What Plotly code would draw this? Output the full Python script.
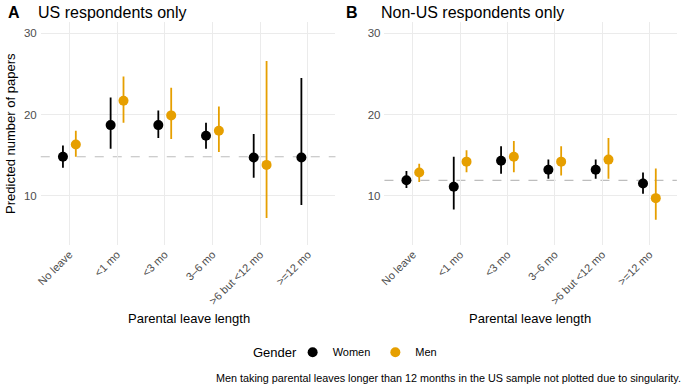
import numpy as np
import plotly.graph_objects as go

categories = ["No leave", "<1 mo", "<3 mo", "3\u20136 mo", ">6 but <12 mo", ">=12 mo"]

# Panel A: US respondents
us_women_est = [14.8, 18.7, 18.7, 17.4, 14.7, 14.7]
us_women_lo = [13.45, 15.8, 17.1, 15.8, 12.2, 8.85]
us_women_hi = [16.2, 22.1, 20.5, 19.0, 17.6, 24.5]
us_men_est = [16.3, 21.7, 19.9, 18.0, 13.8, None]
us_men_lo = [14.8, 19.0, 17.0, 15.4, 7.25, None]
us_men_hi = [18.0, 24.7, 23.3, 21.0, 26.6, None]
us_ref = 14.8

# Panel B: Non-US respondents
nonus_women_est = [11.9, 11.1, 14.3, 13.2, 13.2, 11.5]
nonus_women_lo = [10.95, 8.3, 12.7, 12.1, 12.1, 10.25]
nonus_women_hi = [13.05, 14.8, 16.1, 14.45, 14.45, 12.85]
nonus_men_est = [12.85, 14.2, 14.8, 14.2, 14.45, 9.7]
nonus_men_lo = [11.7, 12.9, 12.9, 12.5, 12.1, 7.05]
nonus_men_hi = [13.95, 15.6, 16.75, 16.1, 17.1, 13.35]
nonus_ref = 11.9

y_ticks = [10, 20, 30]

WOMEN = "#000000"
MEN = "#E69F00"
FONT = "Liberation Sans, Arial, sans-serif"
DODGE = 0.135

fig = go.Figure()

def add_series(est, lo, hi, color, name, xaxis, yaxis, offset, show):
    idx = np.arange(len(categories), dtype=float) + offset
    xs, ys, ep, em = [], [], [], []
    for i, (e, l, h) in enumerate(zip(est, lo, hi)):
        if e is None:
            continue
        xs.append(idx[i]); ys.append(e); ep.append(h - e); em.append(e - l)
    fig.add_trace(go.Scatter(
        x=xs, y=ys, mode="markers", name=name, legendgroup=name, showlegend=show,
        xaxis=xaxis, yaxis=yaxis,
        marker=dict(color=color, size=10),
        error_y=dict(type="data", symmetric=False, array=ep, arrayminus=em,
                     color=color, thickness=1.8, width=0),
    ))

add_series(us_women_est, us_women_lo, us_women_hi, WOMEN, "Women", "x", "y", -DODGE, True)
add_series(us_men_est, us_men_lo, us_men_hi, MEN, "Men", "x", "y", DODGE, True)
add_series(nonus_women_est, nonus_women_lo, nonus_women_hi, WOMEN, "Women", "x2", "y2", -DODGE, False)
add_series(nonus_men_est, nonus_men_lo, nonus_men_hi, MEN, "Men", "x2", "y2", DODGE, False)

ydom = [0.367, 0.943]
xcommon = dict(
    tickmode="array", tickvals=list(range(len(categories))), ticktext=categories,
    tickangle=-45, tickfont=dict(family=FONT, size=11, color="#4D4D4D"),
    showgrid=True, gridcolor="#EBEBEB", gridwidth=1, zeroline=False,
    showline=False, ticks="", range=[-0.6, 5.58],
)
ycommon = dict(
    tickvals=y_ticks, tickfont=dict(family=FONT, size=11.5, color="#4D4D4D"),
    showgrid=True, gridcolor="#EBEBEB", gridwidth=1, zeroline=False,
    showline=False, ticks="", range=[3.93, 31.4], domain=ydom,
    ticklabelstandoff=3,
)

fig.update_layout(
    width=685, height=387,
    margin=dict(l=0, r=0, t=0, b=0),
    paper_bgcolor="white", plot_bgcolor="white",
    font=dict(family=FONT, color="black"),
    xaxis=dict(domain=[0.0526, 0.486], anchor="y", **xcommon),
    yaxis=dict(anchor="x", **ycommon),
    xaxis2=dict(domain=[0.558, 0.988], anchor="y2", **xcommon),
    yaxis2=dict(anchor="x2", **ycommon),
    showlegend=True,
    legend=dict(
        orientation="h", x=0.423, y=0.09, xanchor="left", yanchor="middle",
        font=dict(family=FONT, size=11, color="black"),
        itemwidth=30, bgcolor="rgba(0,0,0,0)",
    ),
)

for xr, yr, ref in [("x", "y", us_ref), ("x2", "y2", nonus_ref)]:
    fig.add_shape(type="line", xref=f"{xr} domain", yref=yr, x0=0, x1=1, y0=ref, y1=ref,
                  line=dict(color="#BDBDBD", width=1.2, dash="dash"), layer="below")

ann = [
    dict(text="<b>A</b>", x=0.001, y=0.968, size=16),
    dict(text="US respondents only", x=0.046, y=0.968, size=16),
    dict(text="<b>B</b>", x=0.499, y=0.968, size=16),
    dict(text="Non-US respondents only", x=0.55, y=0.968, size=16),
]
for a in ann:
    fig.add_annotation(text=a["text"], x=a["x"], y=a["y"], xref="paper", yref="paper",
                       xanchor="left", yanchor="middle", showarrow=False,
                       font=dict(family=FONT, size=a["size"], color="black"))

fig.add_annotation(text="Gender", x=296 / 685, y=1 - 352 / 387, xref="paper", yref="paper",
                   xanchor="right", yanchor="middle", showarrow=False,
                   font=dict(family=FONT, size=13, color="black"))
fig.add_annotation(text="Predicted number of papers", x=0.008, y=(ydom[0] + ydom[1]) / 2,
                   xref="paper", yref="paper", textangle=-90, showarrow=False,
                   xanchor="center", yanchor="middle",
                   font=dict(family=FONT, size=13, color="black"))
for xc in [0.27, 0.772]:
    fig.add_annotation(text="Parental leave length", x=xc, y=1 - 318 / 387,
                       xref="paper", yref="paper", showarrow=False,
                       xanchor="center", yanchor="middle",
                       font=dict(family=FONT, size=13, color="black"))
fig.add_annotation(
    text="Men taking parental leaves longer than 12 months in the US sample not plotted due to singularity.",
    x=0.997, y=1 - 378 / 387, xref="paper", yref="paper", showarrow=False,
    xanchor="right", yanchor="middle", font=dict(family=FONT, size=10.8, color="black"))

fig.write_html("out.html", config={"displayModeBar": False},
               post_script="document.body.style.margin='0px';")
